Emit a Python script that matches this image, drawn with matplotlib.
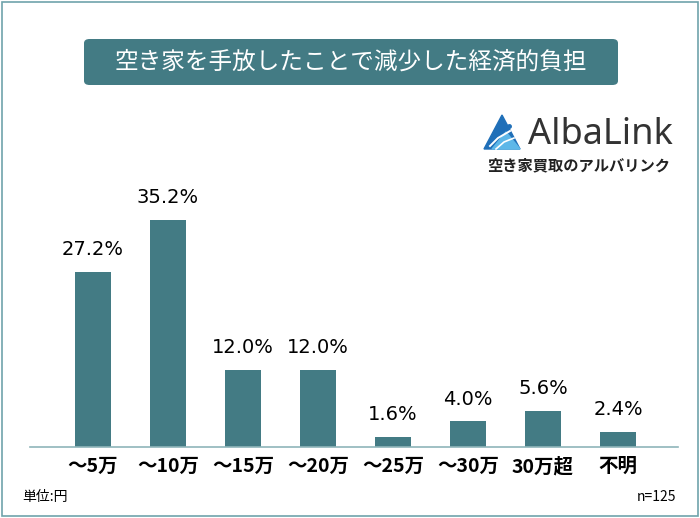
import matplotlib.pyplot as plt
from matplotlib.patches import FancyBboxPatch, Polygon, Rectangle

plt.rcParams["font.family"] = ["Noto Sans CJK JP", "DejaVu Sans"]

BAR_COLOR = "#437b84"
TITLE = "空き家を手放したことで減少した経済的負担"
categories = ["～5万", "～10万", "～15万", "～20万", "～25万", "～30万", "30万超", "不明"]
values = [27.2, 35.2, 12.0, 12.0, 1.6, 4.0, 5.6, 2.4]
W, H = 700, 518


def px_rect(x0, y0, x1, y1):
    # pixel box (top-left origin) -> figure fraction
    return [x0 / W, 1 - y1 / H, (x1 - x0) / W, (y1 - y0) / H]


fig = plt.figure(figsize=(7.0, 5.18), dpi=100)

# outer frame
fig.patches.append(Rectangle((2 / W, 2 / H), 1 - 4 / W, 1 - 4 / H, transform=fig.transFigure,
                             fill=False, edgecolor="#6fa3ab", linewidth=1.2))

# title box
fig.patches.append(FancyBboxPatch((84 / W, 1 - 85 / H), 534 / W, 46 / H, transform=fig.transFigure,
                                  boxstyle="round,pad=0,rounding_size=0.008",
                                  facecolor=BAR_COLOR, edgecolor="none"))
fig.text(351 / W, 1 - 62 / H, TITLE, color="white", fontsize=17, ha="center", va="center")

# logo
icon = fig.add_axes(px_rect(476, 112, 522, 152))
icon.set_xlim(0, 46)
icon.set_ylim(40, 0)
icon.axis("off")
icon.add_patch(Polygon([(8, 37), (26, 3), (44, 37)], color="#1f6fb8"))
icon.add_patch(Polygon([(16, 37), (30, 20), (44, 37)], color="#5db7e8"))
icon.plot([14, 22, 34], [34, 26, 19], color="white", lw=1.4)
icon.plot([20, 28, 38], [37, 30, 26], color="white", lw=1.2)
icon.plot([33], [14], "o", color="#1f6fb8", ms=2.5)
fig.text(600 / W, 1 - 135 / H, "AlbaLink", color="#333333", fontsize=26,
         family=["Noto Sans", "DejaVu Sans"], ha="center", va="center")
fig.text(579 / W, 1 - 165 / H, "空き家買取のアルバリンク", color="#222222", fontsize=11,
         fontweight="bold", ha="center", va="center")

# bars
ax = fig.add_axes(px_rect(30, 189, 678, 447))
x = list(range(len(categories)))
ax.bar(x, values, width=0.49, color=BAR_COLOR)
ax.set_xlim(-0.84, 7.8)
ax.set_ylim(0, 40)
for xi, v in zip(x, values):
    ax.annotate(f"{v:.1f}%", (xi, v), xytext=(0, 9), textcoords="offset points",
                ha="center", va="bottom", fontsize=14, family=["DejaVu Sans"])
ax.set_xticks(x)
ax.set_xticklabels(categories, fontsize=14, fontweight="bold")
ax.tick_params(axis="x", length=0, pad=7)
ax.set_yticks([])
for side in ["top", "left", "right"]:
    ax.spines[side].set_visible(False)
ax.spines["bottom"].set_color("#8fb5ba")
ax.spines["bottom"].set_linewidth(1.2)
ax.patch.set_alpha(0)

fig.text(22 / W, 1 - 497 / H, "単位:円", fontsize=10, ha="left", va="center")
fig.text(676 / W, 1 - 497 / H, "n=125", fontsize=10, ha="right", va="center")

fig.savefig("out.png", dpi=100)
